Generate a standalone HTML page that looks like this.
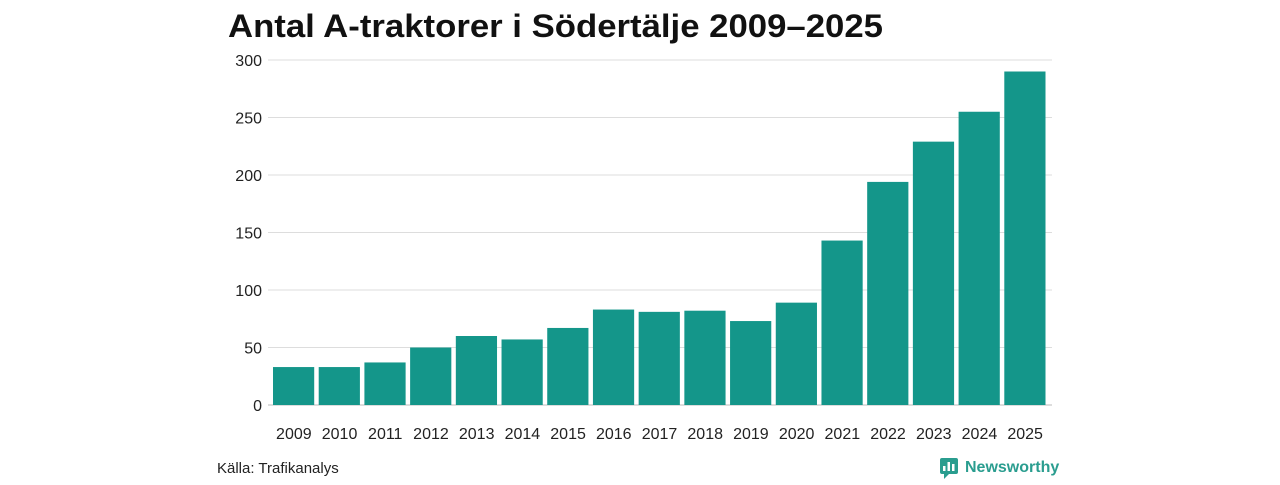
<!DOCTYPE html>
<html><head><meta charset="utf-8"><style>
body{margin:0;background:#fff;width:1280px;height:480px;overflow:hidden;font-family:"Liberation Sans",sans-serif}
</style></head><body>
<svg width="1280" height="480">
<text x="228" y="37" font-size="32" font-weight="bold" fill="#111" textLength="655" lengthAdjust="spacingAndGlyphs">Antal A-traktorer i Södertälje 2009–2025</text>
<g id="grid"></g><g id="bars"></g><g id="xl"></g>
<text x="217" y="473" font-size="15" fill="#222">Källa: Trafikanalys</text>
<g>
<rect x="940" y="458" width="18" height="16" rx="2" fill="#2a9d8f"/>
<path d="M944 474 L944 479 L949 474Z" fill="#2a9d8f"/>
<rect x="943" y="466" width="2.5" height="5" fill="#fff"/><rect x="947.5" y="462" width="2.5" height="9" fill="#fff"/><rect x="952" y="464" width="2.5" height="7" fill="#fff"/>
<text x="965" y="472" font-size="16" font-weight="bold" fill="#2a9d8f">Newsworthy</text>
</g>
</svg>
<script>
const years=["2009","2010","2011","2012","2013","2014","2015","2016","2017","2018","2019","2020","2021","2022","2023","2024","2025"];
const values=[33,33,37,50,60,57,67,83,81,82,73,89,143,194,229,255,290];
const ticks=[0,50,100,150,200,250,300];
const ns="http://www.w3.org/2000/svg";
const x0=271,x1=1048,y0=405,yTop=60,yMax=300;
const band=(x1-x0)/years.length;
const y=v=>y0-(v/yMax)*(y0-yTop);
const x=i=>x0+i*band;
function mk(t,a,p){const e=document.createElementNS(ns,t);for(const k in a)e.setAttribute(k,a[k]);p.appendChild(e);return e;}
const g=document.getElementById('grid'),b=document.getElementById('bars'),xl=document.getElementById('xl');
ticks.forEach(t=>{
const l=mk('line',{x1:268,x2:1052,y1:y(t),y2:y(t),stroke:t==0?'#bbb':'#ddd','stroke-width':1},g);


const tx=mk('text',{x:262,y:y(t)+6,'text-anchor':'end','font-size':16,fill:'#222'},g);tx.textContent=t;


});
values.forEach((v,i)=>{
const r=mk('rect',{x:x(i)+2,y:y(v),width:band-4.5,height:y0-y(v),fill:'#14968a'},b);


const t=mk('text',{x:x(i)+band/2,y:439,'text-anchor':'middle','font-size':16,fill:'#222'},xl);t.textContent=years[i];


});
</script>
</body></html>
